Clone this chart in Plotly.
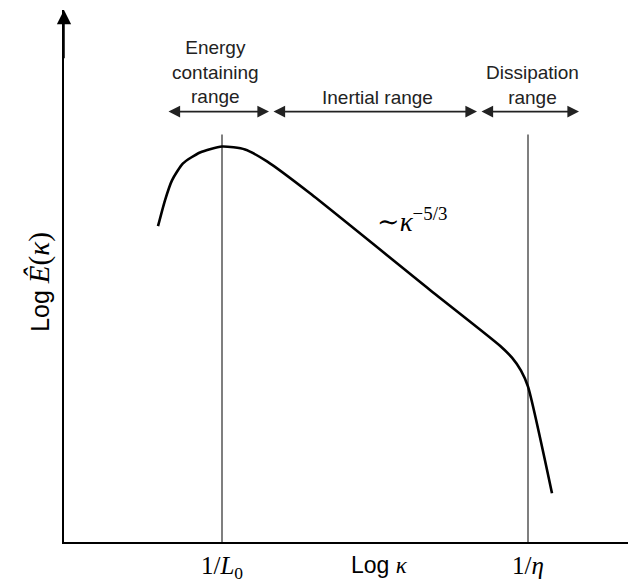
import plotly.graph_objects as go

# Energy spectrum curve (log kappa, log E) in arbitrary units
log_k = [0.94, 1.01, 1.08, 1.19, 1.36, 1.58, 1.81, 2.03, 2.46, 3.66, 4.36, 4.48, 4.57, 4.64, 4.88]
log_E = [3.17, 3.43, 3.63, 3.80, 3.91, 3.97, 3.94, 3.82, 3.50, 2.53, 1.97, 1.85, 1.72, 1.56, 0.49]

# characteristic wavenumbers
k_L0 = 1.58
k_eta = 4.64
marker_top = 4.09
tick_vals = [k_L0, k_eta]
tick_text = ["1/<i>L</i><sub>0</sub>", "1/<i>η</i>"]

# range bars (start, end) and labels
range_y = 4.32
ranges = [(1.03, 2.05), (2.08, 4.13), (4.16, 5.15)]
range_labels = ["Energy<br>containing<br>range", "Inertial range", "Dissipation<br>range"]
label_pos = [(1.51, 4.72), (3.13, 4.46), (4.68, 4.59)]

x_max = 5.64
y_max = 5.34

SERIF = "Liberation Serif, DejaVu Serif, serif"
SANS = "Liberation Sans, Arial, sans-serif"

fig = go.Figure()

# vertical reference lines
for kv in [k_L0, k_eta]:
    fig.add_trace(go.Scatter(x=[kv, kv], y=[0, marker_top], mode="lines",
                             line=dict(color="#555555", width=1.5),
                             hoverinfo="skip", showlegend=False))

# spectrum curve
fig.add_trace(go.Scatter(x=log_k, y=log_E, mode="lines",
                         line=dict(color="black", width=2.6, shape="spline", smoothing=0.6),
                         showlegend=False))

annotations = []
# double-headed arrows for ranges
for (a, b) in ranges:
    annotations.append(dict(x=b, y=range_y, ax=a, ay=range_y, xref="x", yref="y",
                            axref="x", ayref="y", text="", showarrow=True,
                            arrowhead=2, startarrowhead=2, arrowside="end+start",
                            arrowsize=1.45, startarrowsize=1.45, arrowwidth=1.6,
                            arrowcolor="#222222", standoff=0, startstandoff=0))
for txt, (lx, ly) in zip(range_labels, label_pos):
    annotations.append(dict(x=lx, y=ly, xref="x", yref="y", text=txt, showarrow=False,
                            font=dict(family=SANS, size=19, color="#222222"),
                            align="center"))

# y-axis arrowhead
annotations.append(dict(x=0, y=y_max, ax=0, ay=y_max - 0.5, xref="x", yref="y",
                        axref="x", ayref="y", text="", showarrow=True, arrowhead=2,
                        arrowsize=1.9, arrowwidth=1.5, arrowcolor="black", standoff=0))

# slope label
annotations.append(dict(x=3.48, y=3.23, xref="x", yref="y",
                        text="∼<i>κ</i><sup>−5/3</sup>", showarrow=False,
                        font=dict(family=SERIF, size=27, color="black")))

# axis titles
annotations.append(dict(x=0.559, y=-0.043, xref="paper", yref="paper",
                        xanchor="center", yanchor="middle",
                        text="Log <span style='font-family:Liberation Serif'><i>κ</i></span>",
                        showarrow=False, font=dict(family=SANS, size=23, color="black")))
annotations.append(dict(x=-0.0426, y=0.489, xref="paper", yref="paper", textangle=-90,
                        xanchor="center", yanchor="middle",
                        text="Log <span style='font-family:Liberation Serif;font-size:29px'><i>Ê</i>(<i>κ</i>)</span>",
                        showarrow=False, font=dict(family=SANS, size=25, color="black")))

fig.update_layout(
    width=628, height=583,
    margin=dict(l=64, r=0, t=10, b=39),
    plot_bgcolor="white", paper_bgcolor="white",
    annotations=annotations,
    xaxis=dict(range=[0, x_max], showgrid=False, zeroline=False, showline=True,
               linecolor="black", linewidth=1.5, ticks="", tickvals=tick_vals,
               ticktext=tick_text, tickfont=dict(family=SERIF, size=25, color="black")),
    yaxis=dict(range=[0, y_max], showgrid=False, zeroline=False, showline=True,
               linecolor="black", linewidth=1.5, showticklabels=False, ticks=""),
)

fig.write_html("out.html", config={"displayModeBar": False},
               post_script="document.body.style.margin='0';document.body.style.overflow='hidden';")
